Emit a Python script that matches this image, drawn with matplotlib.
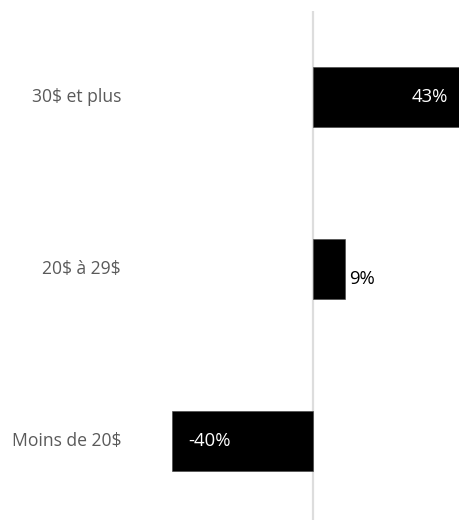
import matplotlib
matplotlib.use("Agg")
import matplotlib.pyplot as plt
from matplotlib.transforms import blended_transform_factory

plt.rcParams["text.parse_math"] = False

categories = ["30$ et plus", "20$ à 29$", "Moins de 20$"]
values = [43, 9, -40]
labels = ["43%", "9%", "-40%"]

DPI = 72
W, H = 459, 523
fig = plt.figure(figsize=(W / DPI, H / DPI), dpi=DPI)
ax = fig.add_axes([0, 0, 1, 1])

# scale: zero at 313 px, 3.525 px per percentage point
px_per = 3.525
x0 = 313
ax.set_xlim(-x0 / px_per, (W - x0) / px_per)
step = 172
top = 97
ax.set_ylim((H - top) / step, -top / step)

ypos = list(range(len(categories)))
ax.barh(ypos, values, height=0.35, color="black", edgecolor="#444444",
        linewidth=0.6, zorder=2)

ax.vlines(0, (11 - top) / step, (520 - top) / step, color="#dddddd",
          linewidth=2.2, zorder=1)

font = "Open Sans"
lab_tr = blended_transform_factory(fig.transFigure, ax.transData)
for y, c in zip(ypos, categories):
    ax.text(121 / W, y, c, transform=lab_tr, ha="right", va="center",
            fontsize=17.5, color="#5a5a5a", family=font)

# value labels
common = dict(textcoords="offset points", va="center", fontsize=18.5,
              family=font, fontweight="medium", annotation_clip=False)
ax.annotate(labels[0], (values[0], ypos[0]), xytext=(-17, 0),
            ha="right", color="white", **common)
ax.annotate(labels[1], (values[1], ypos[1]), xytext=(4, -10),
            ha="left", color="black", **common)
ax.annotate(labels[2], (values[2], ypos[2]), xytext=(16, 0),
            ha="left", color="white", **common)

ax.axis("off")
fig.savefig("out.png", dpi=DPI)
